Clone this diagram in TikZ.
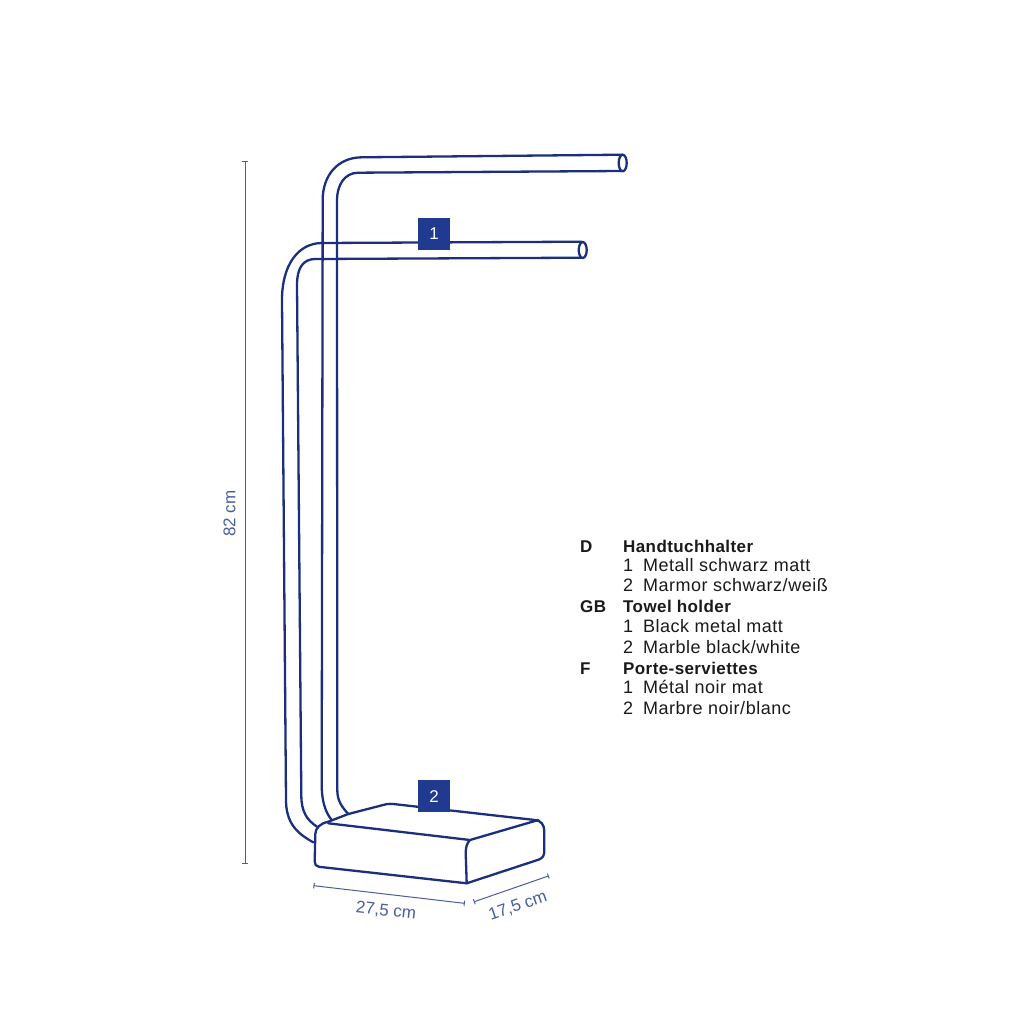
\documentclass[tikz,border=0pt]{standalone}
\usepackage{fontspec}
\setmainfont{Liberation Sans}
\newfontfamily\lbl[LetterSpace=2.8]{Liberation Sans}
\newfontfamily\lblb[LetterSpace=2.4]{Liberation Sans Bold}
\definecolor{ink}{HTML}{1B2F7E}
\definecolor{dimc}{HTML}{4A5D9E}
\definecolor{tagc}{HTML}{1F3A8F}
\definecolor{txt}{HTML}{1A1A1A}
\tikzset{
  x=1pt,y=-1pt,
  tube/.style={draw=ink,line width=2.3pt,line join=round,line cap=round,fill=none},
  dimline/.style={draw=dimc,line width=1pt},
  tick/.style={draw=dimc,line width=1pt},
  dimtext/.style={text=dimc,font=\fontsize{17}{18}\selectfont,inner sep=0pt},
  tag/.style={fill=tagc,text=white,minimum width=32.5pt,minimum height=32pt,inner sep=0pt,font=\fontsize{17}{19}\selectfont},
  head/.style={anchor=base west,inner sep=0pt,text=txt,font=\fontsize{17}{18}\lblb},
  item/.style={anchor=base west,inner sep=0pt,text=txt,font=\fontsize{18}{18}\lbl},
}
\begin{document}
\begin{tikzpicture}
\useasboundingbox (0,0) rectangle (1032,1033);
\fill[white] (0,0) rectangle (1032,1033);
% back rail
\draw[tube] (348.3,814) .. controls (341,806) and (337.3,800) .. (337.3,790)
  -- (337,201) .. controls (337,184) and (345,173) .. (358,172.7) -- (621.7,171);
\draw[tube] (331.7,820) .. controls (325,812) and (321.7,800) .. (321.7,785)
  -- (322.7,200) .. controls (322.7,175) and (338,157.5) .. (361.7,157.3) -- (622.7,154.7);
\draw[tube,fill=white] (622.7,163) ellipse [x radius=4,y radius=8.3];
% front rail
\draw[tube] (313.3,842.3) .. controls (296,833) and (286,822) .. (286,800)
  -- (282,300) .. controls (282,265) and (298,243.3) .. (321.7,243) -- (581.7,241.7);
\draw[tube] (317,826.7) .. controls (307,820) and (301.3,812) .. (301.3,795)
  -- (297,285) .. controls (297,268) and (303,259.2) .. (315,259) -- (581.7,257.7);
\draw[tube,fill=white] (582.7,250) ellipse [x radius=4,y radius=8];
% base
\draw[tube,fill=white] (348.3,814) -- (385,804.5) .. controls (388,803.7) and (392,803.7) .. (396,804.3)
  -- (535,820) .. controls (541,820.5) and (544.3,825) .. (544.3,831)
  -- (544.3,851) .. controls (544.3,855) and (543,858) .. (539,859.5)
  -- (466.7,883.3) -- (319,866.8) .. controls (316,866.3) and (314.7,864.5) .. (314.7,861.5)
  -- (315.3,834) .. controls (315.5,828) and (320,823.5) .. (328.3,821.7) -- cycle;
\draw[tube] (328.3,823.3) -- (470,840) -- (538.3,820);
\draw[tube] (470,840) .. controls (467,843) and (465.7,847) .. (465.7,853) -- (466.7,883.3);
% dimensions
\coordinate (h1) at (245,161); \coordinate (h2) at (245,863);
\coordinate (w1) at (314,885.7); \coordinate (w2) at (464.3,903.3);
\coordinate (d1) at (474.3,901.7); \coordinate (d2) at (548.3,876);
\draw[dimline] (h1) -- (h2);
\draw[tick] (242,161) -- (248,161) (242,863) -- (248,863);
\draw[dimline] (w1) -- (w2);
\draw[tick] (314.3,883) -- (313.7,888.4) (464.6,900.6) -- (464,906);
\draw[dimline] (d1) -- (d2);
\draw[tick] (473.4,899.2) -- (475.2,904.2) (547.4,873.5) -- (549.2,878.5);
\node[dimtext,rotate=90] (lh) at (229.5,513.5) {82 cm};
\node[dimtext,rotate=-6.5] (lw) at (386,911) {27,5 cm};
\node[dimtext,rotate=19] (ld) at (518,906) {17,5 cm};
% tags
\node[tag] (t1) at (434.2,233.7) {1};
\node[tag] (t2) at (434.2,796.3) {2};
% legend
\node[head] (c1) at (580,552) {D};
\node[head] (a0) at (623,552) {Handtuchhalter};
\node[item] (a1n) at (623,571) {1}; \node[item] (a1) at (643,571) {Metall schwarz matt};
\node[item] (a2n) at (623,591.7) {2}; \node[item] (a2) at (643,591.7) {Marmor schwarz/weiß};
\node[head] (c2) at (580,612.5) {GB};
\node[head] (b0) at (623,612.5) {Towel holder};
\node[item] (b1n) at (623,632.7) {1}; \node[item] (b1) at (643,632.7) {Black metal matt};
\node[item] (b2n) at (623,653.2) {2}; \node[item] (b2) at (643,653.2) {Marble black/white};
\node[head] (c3) at (580,674) {F};
\node[head] (f0) at (623,674) {Porte-serviettes};
\node[item] (f1n) at (623,693.5) {1}; \node[item] (f1) at (643,693.5) {Métal noir mat};
\node[item] (f2n) at (623,714) {2}; \node[item] (f2) at (643,714) {Marbre noir/blanc};
\end{tikzpicture}
\end{document}
